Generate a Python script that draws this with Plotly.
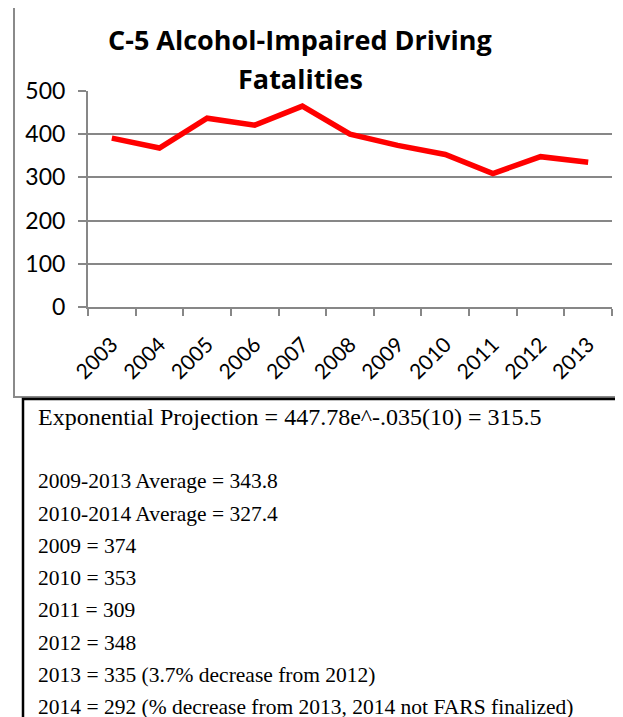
import plotly.graph_objects as go

# ---- data ----
years = ["2003", "2004", "2005", "2006", "2007", "2008", "2009", "2010", "2011", "2012", "2013"]
fatalities = [391, 368, 437, 421, 465, 400, 374, 353, 309, 348, 335]
y_ticks = [0, 100, 200, 300, 400, 500]
title_lines = ["C-5 Alcohol-Impaired Driving", "Fatalities"]
projection_line = "Exponential Projection = 447.78e^-.035(10) = 315.5"
note_lines = [
    "2009-2013 Average = 343.8",
    "2010-2014 Average = 327.4",
    "2009 = 374",
    "2010 = 353",
    "2011 = 309",
    "2012 = 348",
    "2013 = 335 (3.7% decrease from 2012)",
    "2014 = 292 (% decrease from 2013, 2014 not FARS finalized)",
]

# ---- layout geometry (window pixels) ----
OFF = 8                      # default page body margin
W, H = 623 - OFF, 717 - OFF  # figure fills the window exactly
PL, PR, PT, PB = 88, 612, 91, 307


def px_x(px):
    return (px - PL) / (PR - PL)


def px_y(py):
    return (PB - py) / (PB - PT)


SANS = "Lato, 'Open Sans', sans-serif"
TITLE_FONT = "'Open Sans', Lato, sans-serif"
SERIF = "'Liberation Serif', 'Times New Roman', serif"
GRID = "#878787"

fig = go.Figure()
fig.add_trace(go.Scatter(
    x=years, y=fatalities, mode="lines",
    line=dict(color="#ff0000", width=5.5),
    hoverinfo="skip", showlegend=False,
))

shapes = [
    # chart outer border
    dict(type="rect", xref="paper", yref="paper",
         x0=px_x(14), x1=px_x(640), y0=px_y(397), y1=px_y(6),
         line=dict(color="#8a8a8a", width=2), fillcolor="rgba(0,0,0,0)", layer="below"),
    # text box border
    dict(type="rect", xref="paper", yref="paper",
         x0=px_x(23), x1=px_x(621), y0=px_y(740), y1=px_y(399),
         line=dict(color="#000000", width=2.5), fillcolor="rgba(0,0,0,0)", layer="below"),
]

annotations = []
title_y = [40, 78]
for t, yy in zip(title_lines, title_y):
    annotations.append(dict(
        text=t, xref="paper", yref="paper", x=px_x(300), y=px_y(yy),
        xanchor="center", yanchor="middle", showarrow=False,
        font=dict(family=TITLE_FONT, size=27, color="#000000", weight="bold"),
    ))

annotations.append(dict(
    text=projection_line, xref="paper", yref="paper", x=px_x(36), y=px_y(417),
    xanchor="left", yanchor="middle", showarrow=False,
    font=dict(family=SERIF, size=24, color="#000000"),
))
note_y = [481, 513.5, 546, 578, 610, 643, 675, 707]
for t, yy in zip(note_lines, note_y):
    annotations.append(dict(
        text=t, xref="paper", yref="paper", x=px_x(36), y=px_y(yy),
        xanchor="left", yanchor="middle", showarrow=False,
        font=dict(family=SERIF, size=21.5, color="#000000"),
    ))

fig.update_layout(
    width=W, height=H,
    margin=dict(l=PL - OFF, r=W - (PR - OFF), t=PT - OFF, b=H - (PB - OFF), pad=0),
    paper_bgcolor="white", plot_bgcolor="white",
    showlegend=False,
    shapes=shapes,
    annotations=annotations,
    xaxis=dict(
        type="category", tickson="boundaries", ticks="outside", ticklen=7,
        tickwidth=2, tickcolor=GRID, showgrid=False, showline=True,
        linecolor=GRID, linewidth=2, tickangle=-45,
        tickfont=dict(family=SANS, size=21, color="#000000"),
        ticklabelstandoff=15,
        range=[-0.5, len(years) - 0.5], fixedrange=True,
    ),
    yaxis=dict(
        range=[0, 500], tickvals=y_ticks, ticks="outside", ticklen=8,
        tickwidth=2, tickcolor=GRID, showgrid=True, gridcolor=GRID, gridwidth=2,
        showline=True, linecolor=GRID, linewidth=2, zeroline=False,
        tickfont=dict(family=SANS, size=23, color="#000000"),
        ticklabelstandoff=8, fixedrange=True,
    ),
)

fig.write_html("out.html")
